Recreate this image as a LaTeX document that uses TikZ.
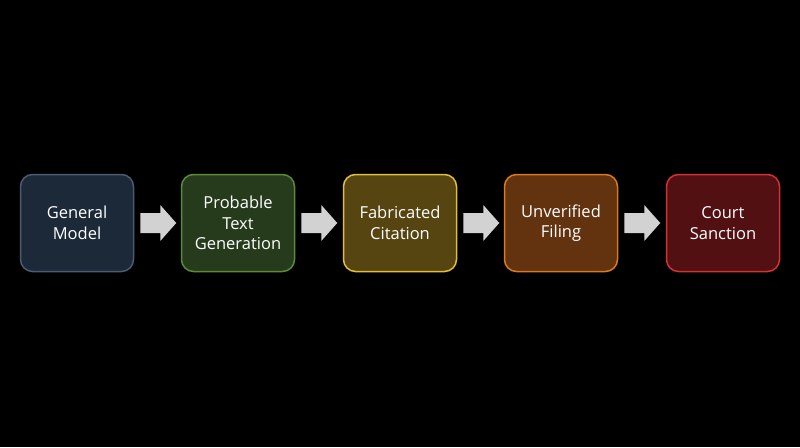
\documentclass[tikz,border=0pt]{standalone}
\usepackage{fontspec}
\setmainfont{Open Sans}
\begin{document}
\begin{tikzpicture}[x=1pt,y=-1pt,
  box/.style={draw, line width=1.5pt, rounded corners=12pt, minimum width=113pt, minimum height=97pt, align=center, text=white, font=\fontsize{16.5}{20.5}\selectfont},
  arr/.style={fill=gray!35!white, draw=none}]
\fill[black] (0,0) rectangle (800,447);
\useasboundingbox (0,0) rectangle (800,447);
\definecolor{f1}{HTML}{1C2939}\definecolor{d1}{HTML}{4B5B70}
\definecolor{f2}{HTML}{263B1C}\definecolor{d2}{HTML}{5A8A3A}
\definecolor{f3}{HTML}{564510}\definecolor{d3}{HTML}{E2BE3E}
\definecolor{f4}{HTML}{633310}\definecolor{d4}{HTML}{D87A22}
\definecolor{f5}{HTML}{521012}\definecolor{d5}{HTML}{D23232}
\node[box, fill=f1, draw=d1] (a) at (77,223) {General\\Model};
\node[box, fill=f2, draw=d2] (b) at (238,223) {Probable\\Text\\Generation};
\node[box, fill=f3, draw=d3] (c) at (400,223) {Fabricated\\Citation};
\node[box, fill=f4, draw=d4] (d) at (561,223) {Unverified\\Filing};
\node[box, fill=f5, draw=d5] (e) at (723,223) {Court\\Sanction};
\foreach \p/\q in {a/b,b/c,c/d,d/e}{
  \path (\p.east) ++(6,0) coordinate (s\p);
  \fill[arr] (s\p) ++(0,-10) -- ++(20,0) -- ++(0,-8) -- ++(16,18) -- ++(-16,18) -- ++(0,-8) -- ++(-20,0) -- cycle;
}
\end{tikzpicture}
\end{document}
